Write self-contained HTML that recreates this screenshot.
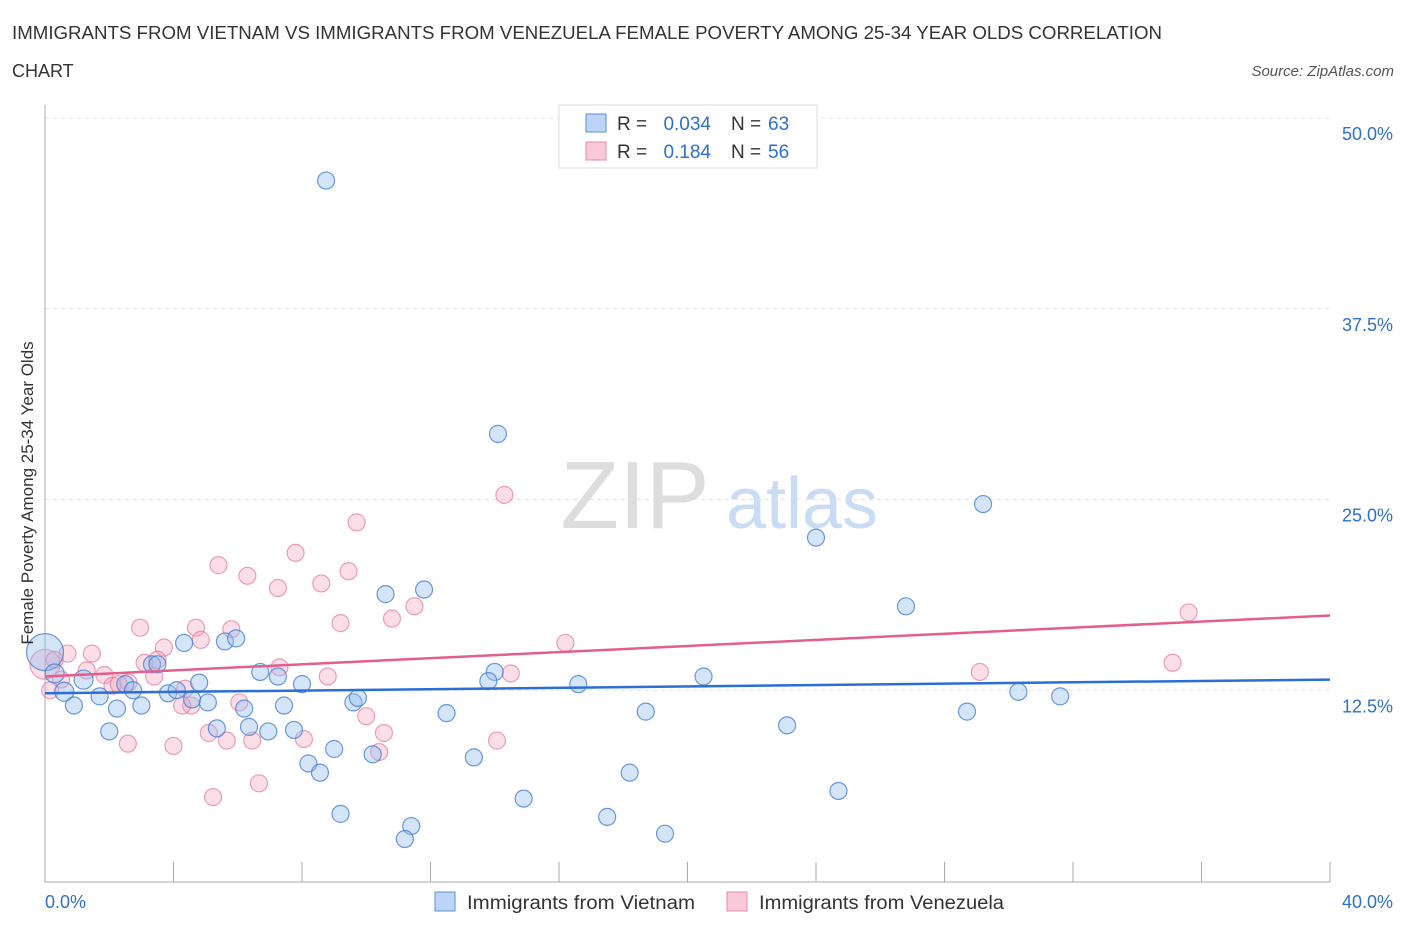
<!DOCTYPE html>
<html><head><meta charset="utf-8"><style>
body{margin:0;background:#fff;font-family:"Liberation Sans",sans-serif;}
svg text{font-family:"Liberation Sans",sans-serif;}
</style></head><body>
<svg id="chart" width="1406" height="930">
<text x="12" y="39" font-size="18" fill="#333" textLength="1150" lengthAdjust="spacingAndGlyphs">IMMIGRANTS FROM VIETNAM VS IMMIGRANTS FROM VENEZUELA FEMALE POVERTY AMONG 25-34 YEAR OLDS CORRELATION</text>
<text x="12" y="77" font-size="18" fill="#333">CHART</text>
<text x="1394" y="76" font-size="15" fill="#555" font-style="italic" text-anchor="end">Source: ZipAtlas.com</text>
<text x="635" y="528" font-size="96" fill="#ddd" font-family="Liberation Serif" text-anchor="middle">ZIP</text>
<text x="802" y="528" font-size="72" fill="#c9dcf3" text-anchor="middle">atlas</text>
<g id="grid"></g>
<g id="axes"></g>
<g id="pts"></g>
<g id="lines"></g>
<text x="33" y="493" font-size="17" fill="#333" text-anchor="middle" transform="rotate(-90 33 493)">Female Poverty Among 25-34 Year Olds</text>
<g>
<rect x="559" y="105" width="258" height="63" fill="#fff" stroke="#ddd"/>
<rect x="586" y="114" width="20" height="18" fill="#bcd4f5" stroke="#5b8fd8"/>
<rect x="586" y="142" width="20" height="18" fill="#f9c9d8" stroke="#e88aa8"/>
<text x="617" y="130" font-size="19" fill="#333">R =</text>
<text x="711" y="130" font-size="19" fill="#2f6fcc" text-anchor="end">0.034</text>
<text x="731" y="130" font-size="19" fill="#333">N =</text>
<text x="768" y="130" font-size="19" fill="#2f6fcc">63</text>
<text x="617" y="158" font-size="19" fill="#333">R =</text>
<text x="711" y="158" font-size="19" fill="#2f6fcc" text-anchor="end">0.184</text>
<text x="731" y="158" font-size="19" fill="#333">N =</text>
<text x="768" y="158" font-size="19" fill="#2f6fcc">56</text>
</g>
<g>
<rect x="435" y="892" width="20" height="19" fill="#bcd4f5" stroke="#5b8fd8"/>
<text x="467" y="909" font-size="19" fill="#333" textLength="228" lengthAdjust="spacingAndGlyphs">Immigrants from Vietnam</text>
<rect x="727" y="892" width="20" height="19" fill="#f9c9d8" stroke="#e88aa8"/>
<text x="759" y="909" font-size="19" fill="#333" textLength="245" lengthAdjust="spacingAndGlyphs">Immigrants from Venezuela</text>
</g>
</svg>
<script>
const yTicks=[12.5,25,37.5,50];
const yTickLabels=["12.5%","25.0%","37.5%","50.0%"];
const xTickLabels=["0.0%","40.0%"];
const vnX=[8.75,14.1,29.2,24.0,26.8,10.6,11.8,4.33,5.6,5.95,0,0.3,1.2,3.33,3.5,6.7,7.25,14.0,13.8,20.5,16.6,8.0,4.8,2.5,0.6,1.7,2.74,3.83,4.1,0.9,2.24,3.0,4.58,5.07,6.2,7.44,9.6,9.74,30.3,31.6,28.7,18.7,12.5,2.0,5.35,6.35,6.95,7.75,9.0,8.2,8.56,10.2,13.35,18.2,23.1,24.7,14.9,9.2,11.4,11.2,17.5,19.3];
const vnY=[45.9,29.3,24.7,22.5,18.0,18.8,19.1,15.6,15.7,15.9,15.0,13.6,13.2,14.2,14.2,13.7,13.4,13.7,13.1,13.4,12.9,12.9,13.0,12.9,12.4,12.1,12.5,12.3,12.5,11.5,11.3,11.5,11.9,11.7,11.3,11.5,11.7,12.0,12.4,12.1,11.1,11.1,11.0,9.8,10.0,10.1,9.8,9.9,8.65,7.7,7.1,8.3,8.1,7.1,10.2,5.9,5.4,4.4,3.6,2.75,4.2,3.1];
const vnR=[8,8,8,8,8,8,8,8,8,8,18,9,9,8,8,8,8,8,8,8,8,8,8,8,9,8,8,8,8,8,8,8,8,8,8,8,8,8,8,8,8,8,8,8,8,8,8,8,8,8,8,8,8,8,8,8,8,8,8,8,8,8];
const veX=[14.3,9.7,7.8,5.4,6.3,9.45,8.6,7.25,11.5,10.8,9.2,2.96,4.7,5.8,4.85,3.7,16.2,35.6,35.1,29.1,14.5,1.46,0.7,0,0.3,1.3,1.85,3.1,3.5,7.3,8.8,3.4,2.6,2.1,2.3,4.36,0.5,0.16,6.05,4.55,4.27,10.0,5.1,5.66,6.45,8.06,10.55,10.4,14.07,2.58,4.0,5.23,6.66];
const veY=[25.3,23.5,21.5,20.7,20.0,20.3,19.5,19.2,18.0,17.2,16.9,16.6,16.6,16.5,15.8,15.3,15.6,17.6,14.3,13.7,13.6,14.9,14.9,14.2,14.5,13.8,13.5,14.3,14.5,14.0,13.4,13.4,13.0,12.8,12.9,12.6,13.2,12.5,11.7,11.5,11.5,10.8,9.7,9.2,9.2,9.3,9.7,8.45,9.2,9.0,8.85,5.5,6.4];
const vnTrend=[12.3,13.2];
const veTrend=[13.4,17.4];
const X=v=>45+v/40*1285;
const Y=v=>881-v/50*763;
const NS="http://www.w3.org/2000/svg";
function mk(t,a,p){const e=document.createElementNS(NS,t);for(const k in a)e.setAttribute(k,a[k]);p.appendChild(e);return e;}
const grid=document.getElementById('grid'),axes=document.getElementById('axes'),pts=document.getElementById('pts'),lines=document.getElementById('lines');
yTicks.forEach((t,i)=>{
 const g=mk('line',{x1:45,x2:1330,y1:Y(t),y2:Y(t),stroke:'#e2e2e2','stroke-dasharray':'4,4'},grid);
 
 
 const l=mk('text',{x:1393,y:Y(t)+22,'font-size':18,fill:'#2f6fcc','text-anchor':'end'},axes);
 l.textContent=yTickLabels[i];
 
 
});
const ax=mk('line',{x1:45,x2:45,y1:105,y2:882,stroke:'#aaa'},axes);


const bx=mk('line',{x1:45,x2:1330,y1:882,y2:882,stroke:'#aaa'},axes);


for(let i=0;i<=10;i++){const t=mk('line',{x1:X(i*4),x2:X(i*4),y1:862,y2:882,stroke:'#aaa'},axes);
 
 }
[[0,45,'start'],[40,1393,'end']].forEach((d,i)=>{const l=mk('text',{x:d[1],y:908,'font-size':18,fill:'#2f6fcc','text-anchor':d[2]},axes);l.textContent=xTickLabels[i];
 
 });
veX.forEach((x,i)=>{const c=mk('circle',{cx:X(x),cy:Y(veY[i]),r:(i==23?15:8.5),fill:'rgba(244,160,188,0.35)',stroke:'rgba(230,120,155,0.7)','stroke-width':1.2},pts);
 
 });
vnX.forEach((x,i)=>{const c=mk('circle',{cx:X(x),cy:Y(vnY[i]),r:vnR[i]+0.5,fill:'rgba(150,190,240,0.4)',stroke:'rgba(60,120,210,0.75)','stroke-width':1.2},pts);
 
 });
const l1=mk('line',{x1:X(0),x2:X(40),y1:Y(veTrend[0]),y2:Y(veTrend[1]),stroke:'#e35f8a','stroke-width':2.5},lines);


const l2=mk('line',{x1:X(0),x2:X(40),y1:Y(vnTrend[0]),y2:Y(vnTrend[1]),stroke:'#2a6fd6','stroke-width':2.5},lines);


</script>
</body></html>
